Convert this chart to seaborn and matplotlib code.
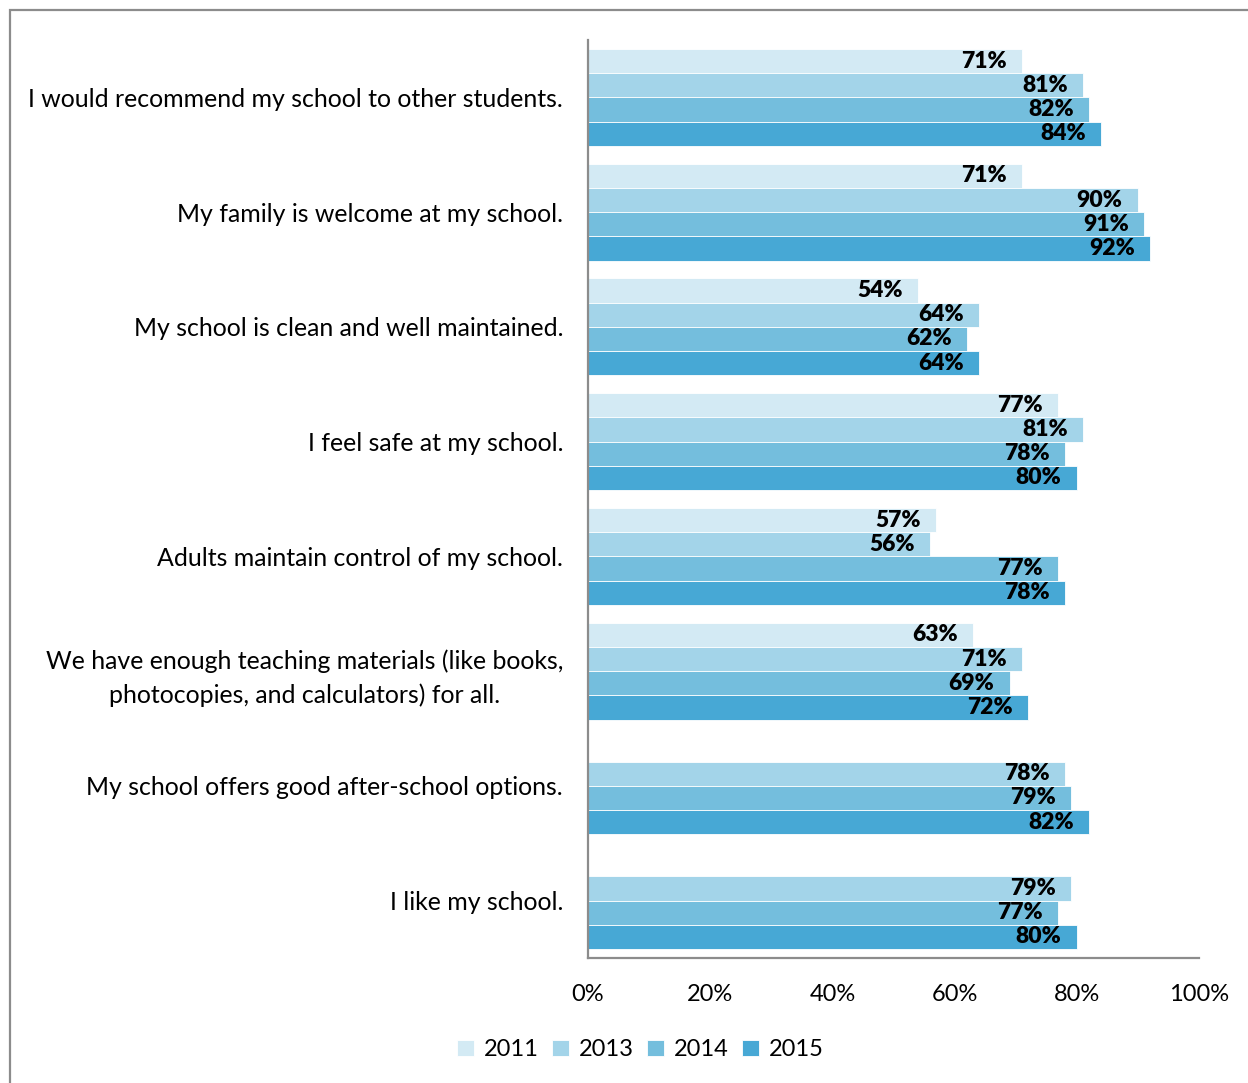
import numpy as np
import pandas as pd
import matplotlib
matplotlib.use("Agg")
import matplotlib.pyplot as plt
from matplotlib.patches import Rectangle
import seaborn as sns

categories = [
    "I would recommend my school to other students.",
    "My family is welcome at my school.",
    "My school is clean and well maintained.",
    "I feel safe at my school.",
    "Adults maintain control of my school.",
    "We have enough teaching materials (like books,\nphotocopies, and calculators) for all.",
    "My school offers good after-school options.",
    "I like my school.",
]
years = ["2011", "2013", "2014", "2015"]
pct_2011 = [71, 71, 54, 77, 57, 63, np.nan, np.nan]
pct_2013 = [81, 90, 64, 81, 56, 71, 78, 79]
pct_2014 = [82, 91, 62, 78, 77, 69, 79, 77]
pct_2015 = [84, 92, 64, 80, 78, 72, 82, 80]
x_ticks = [0, 20, 40, 60, 80, 100]

palette = ["#d3eaf4", "#a3d4e9", "#74bedd", "#47a8d5"]

rows = []
for year, vals in zip(years, [pct_2011, pct_2013, pct_2014, pct_2015]):
    for cat, v in zip(categories, vals):
        rows.append({"Statement": cat, "Year": year, "Percent": v})
df = pd.DataFrame(rows)

sns.set_theme(style="white")
plt.rcParams["font.family"] = ["Lato", "DejaVu Sans"]
plt.rcParams["text.color"] = "black"
plt.rcParams["xtick.color"] = "black"
plt.rcParams["ytick.color"] = "black"

fig = plt.figure(figsize=(12.48, 10.83), dpi=100)
ax = fig.add_axes([588 / 1248, 1 - 958 / 1083, 611 / 1248, 918 / 1083])

sns.barplot(
    data=df, y="Statement", x="Percent", hue="Year",
    order=categories, hue_order=years, palette=palette,
    orient="h", errorbar=None, width=0.845, saturation=1,
    edgecolor="white", linewidth=0.6, ax=ax,
)

for container in ax.containers:
    for patch, val in zip(container.patches, container.datavalues):
        if np.isnan(val):
            continue
        y = patch.get_y() + patch.get_height() / 2
        ax.annotate(f"{val:.0f}%", xy=(val, y), xytext=(-11, 0),
                    textcoords="offset points", ha="right", va="center",
                    fontsize=16.5, fontweight="heavy", color="black")

ax.set_xlim(0, 100)
ax.set_xticks(x_ticks)
ax.set_xticklabels([f"{t}%" for t in x_ticks], fontsize=17)
ax.tick_params(axis="x", length=0, pad=19)
ax.tick_params(axis="y", length=0, pad=18, labelsize=17.9)
ax.set_xlabel("")
ax.set_ylabel("")

for lbl in ax.get_yticklabels():
    lbl.set_multialignment("center")
    lbl.set_linespacing(1.5)
    lbl.set_color("black")

for side in ["top", "right"]:
    ax.spines[side].set_visible(False)
for side in ["left", "bottom"]:
    ax.spines[side].set_color("#8c8c8c")
    ax.spines[side].set_linewidth(1.6)

sns.move_legend(
    ax, "center", bbox_to_anchor=(0.086, -0.1), ncol=4, frameon=False,
    title=None, fontsize=17, handlelength=0.7, handleheight=0.7,
    columnspacing=0.55, handletextpad=0.45,
)

fig.add_artist(Rectangle((10 / 1248, -0.1), 2.0, 1.1 - 10 / 1083,
                         transform=fig.transFigure, fill=False,
                         edgecolor="#8c8c8c", linewidth=1.6))

fig.savefig("out.png", dpi=100)
